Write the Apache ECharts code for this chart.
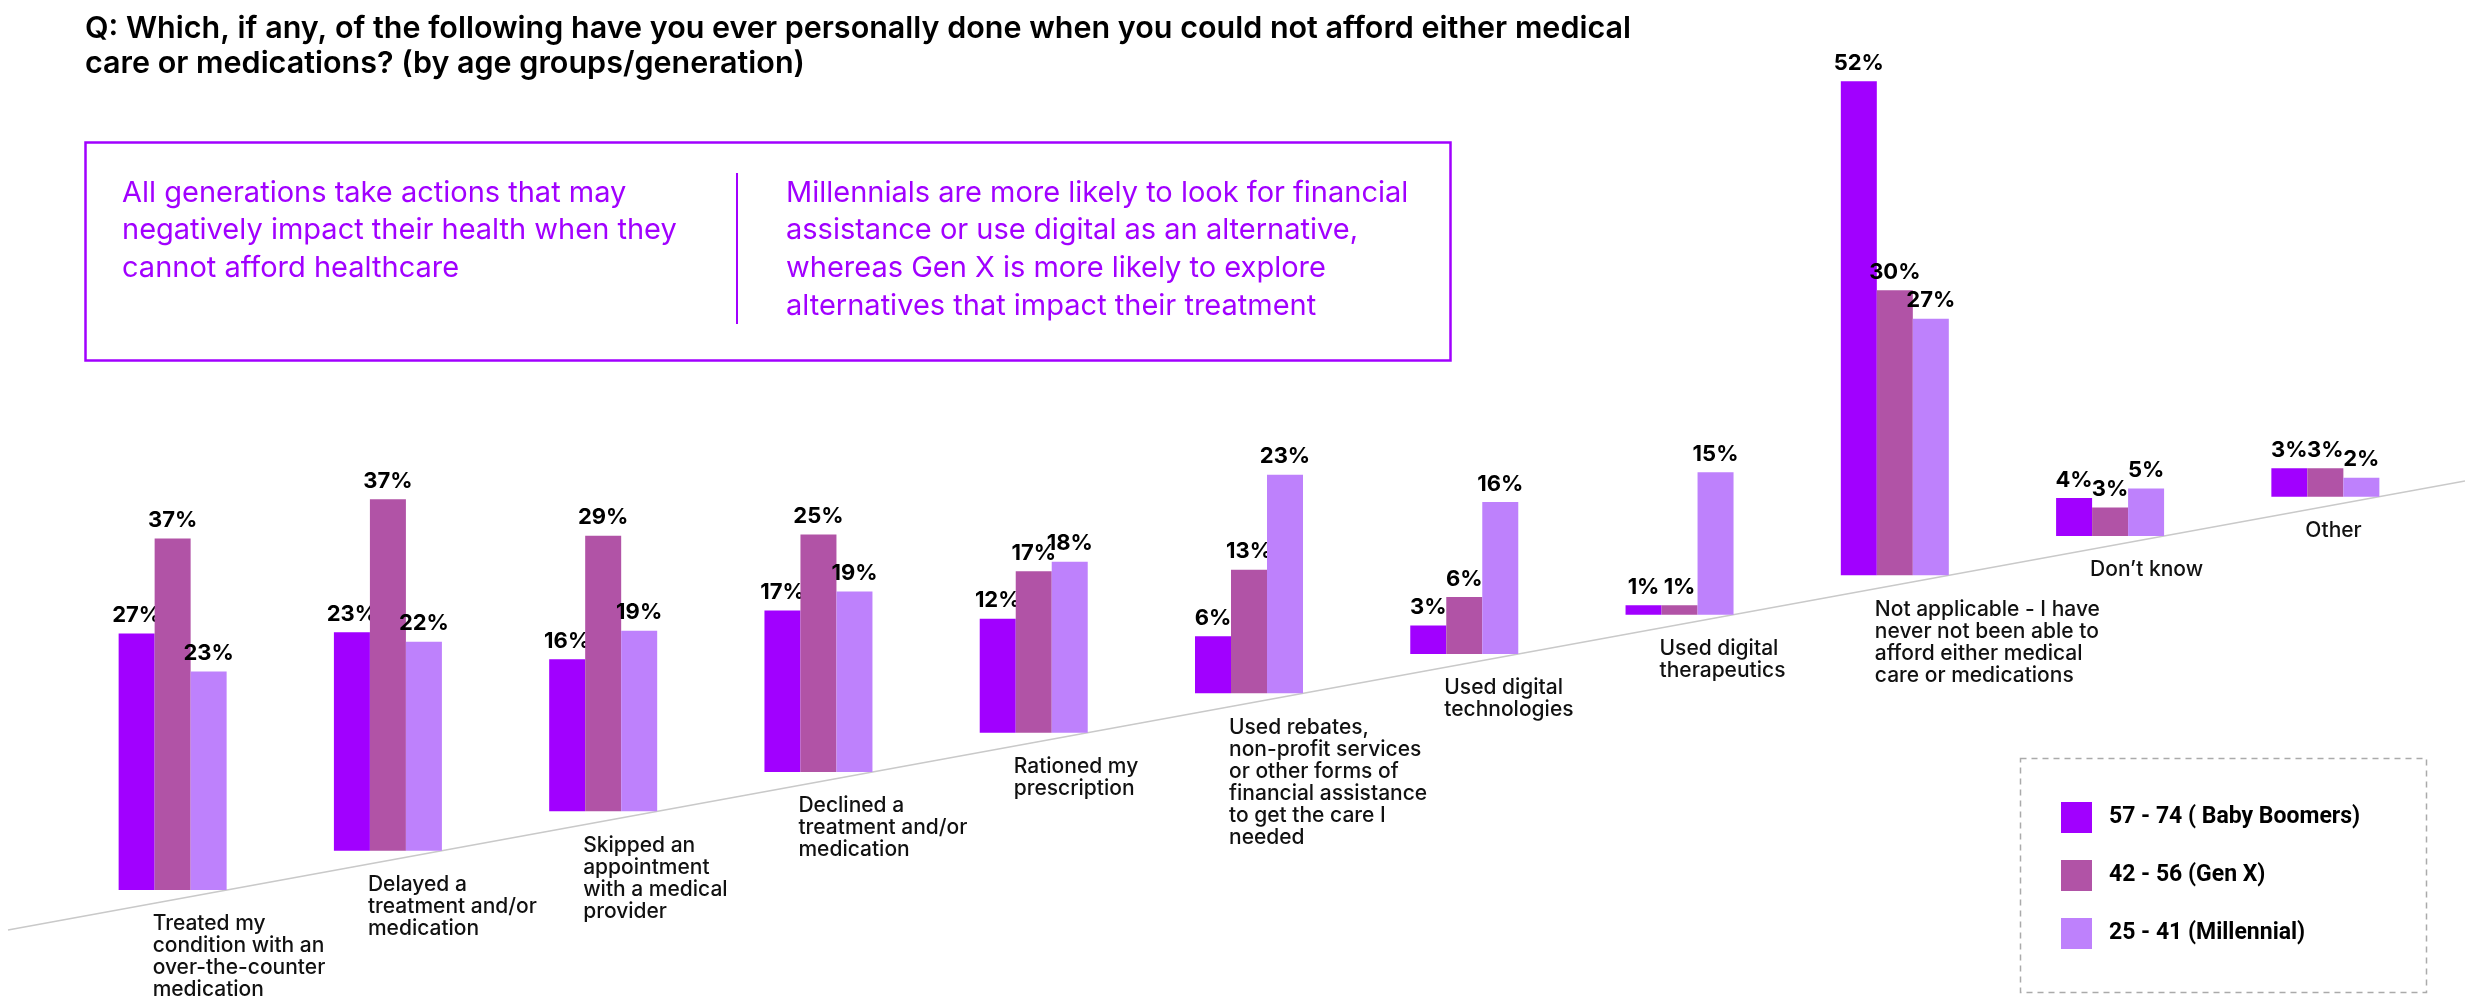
<!DOCTYPE html>
<html>
<head>
<meta charset="utf-8">
<script src="https://cdn.jsdelivr.net/npm/echarts@6/dist/echarts.min.js"></script>
<style>
  html, body { margin: 0; padding: 0; background: #fff; }
  #chart { width: 2465px; height: 1004px; }
</style>
</head>
<body>
<div id="chart"></div>
<script>
// Survey answers, one group of three bars per answer
const categories = [
  'Treated my\ncondition with an\nover-the-counter\nmedication',
  'Delayed a\ntreatment and/or\nmedication',
  'Skipped an\nappointment\nwith a medical\nprovider',
  'Declined a\ntreatment and/or\nmedication',
  'Rationed my\nprescription',
  'Used rebates,\nnon-profit services\nor other forms of\nfinancial assistance\nto get the care I\nneeded',
  'Used digital\ntechnologies',
  'Used digital\ntherapeutics',
  'Not applicable - I have\nnever not been able to\nafford either medical\ncare or medications',
  'Don’t know',
  'Other'
];
const seriesNames = ['57 - 74 ( Baby Boomers)', '42 - 56 (Gen X)', '25 - 41 (Millennial)'];
const boomers    = [27, 23, 16, 17, 12, 6, 3, 1, 52, 4, 3];
const genX       = [37, 37, 29, 25, 17, 13, 6, 1, 30, 3, 3];
const millennial = [23, 22, 19, 19, 18, 23, 16, 15, 27, 5, 2];
const seriesValues = [boomers, genX, millennial];
const colors = ['#A100FF', '#B153A6', '#BE81FC'];

const titleText = 'Q: Which, if any, of the following have you ever personally done when you could not afford either medical\ncare or medications? (by age groups/generation)';
const noteLeft = 'All generations take actions that may\nnegatively impact their health when they\ncannot afford healthcare';
const noteRight = 'Millennials are more likely to look for financial\nassistance or use digital as an alternative,\nwhereas Gen X is more likely to explore\nalternatives that impact their treatment';

// Layout of the rising baseline the bar groups stand on
const BAR_W = 36;
const BASE = { x0: 8, y0: 930, x1: 2465, y1: 481 };
function baseY(x) {
  return BASE.y0 + (BASE.y1 - BASE.y0) * (x - BASE.x0) / (BASE.x1 - BASE.x0);
}
function groupLeft(api, i) {
  return api.coord([i, 0])[0] - 1.5 * BAR_W;
}

function barRenderer(k) {
  return function (params, api) {
    const i = api.value(0);
    const v = api.value(1);
    const left = groupLeft(api, i);
    const y0 = baseY(left + 3 * BAR_W);
    const h = api.size([0, v])[1];
    const x = left + k * BAR_W;
    return {
      type: 'group',
      children: [
        { type: 'rect', shape: { x: x, y: y0 - h, width: BAR_W, height: h },
          style: { fill: api.visual('color') } },
        { type: 'text', style: {
            text: v + '%', x: x + BAR_W / 2, y: y0 - h - 7,
            align: 'center', verticalAlign: 'bottom',
            fontFamily: 'Inter', fontWeight: 700, fontSize: 22, fill: '#000'
        } }
      ]
    };
  };
}

const barSeries = seriesValues.map(function (vals, k) {
  return {
    type: 'custom',
    name: seriesNames[k],
    color: colors[k],
    itemStyle: { color: colors[k] },
    renderItem: barRenderer(k),
    encode: { x: 0, y: 1 },
    data: vals.map(function (v, i) { return [i, v]; }),
    z: 3
  };
});

// Answer texts hang just under the baseline, below each group
const labelSeries = {
  type: 'custom',
  name: 'labels',
  silent: true,
  renderItem: function (params, api) {
    const i = api.value(0);
    const left = groupLeft(api, i);
    const y0 = baseY(left + 3 * BAR_W);
    return {
      type: 'text',
      style: {
        text: categories[i], x: left + 34, y: y0 + 23,
        align: 'left', verticalAlign: 'top',
        fontFamily: 'Inter', fontWeight: 500, fontSize: 21, lineHeight: 22, fill: '#111'
      }
    };
  },
  data: categories.map(function (c, i) { return [i, 0]; }),
  z: 2
};

const baselineSeries = {
  type: 'custom',
  name: 'baseline',
  silent: true,
  renderItem: function () {
    return {
      type: 'line',
      shape: { x1: BASE.x0, y1: BASE.y0, x2: BASE.x1, y2: BASE.y1 },
      style: { stroke: '#c9c9c9', lineWidth: 1.5 }
    };
  },
  data: [[0, 0]],
  z: 1
};

const chart = echarts.init(document.getElementById('chart'), null, { renderer: 'canvas' });
chart.setOption({
  animation: false,
  backgroundColor: '#fff',
  title: {
    text: titleText,
    left: 80, top: 6,
    textStyle: { fontFamily: 'Inter', fontWeight: 600, fontSize: 30.5, lineHeight: 35, color: '#000' }
  },
  grid: { left: 65, right: 32, top: 30, height: 950 },
  xAxis: { type: 'category', data: categories, show: false, boundaryGap: true },
  yAxis: { type: 'value', min: 0, max: 100, show: false },
  legend: {
    data: seriesNames,
    orient: 'vertical',
    left: 2056, top: 797,
    itemWidth: 31, itemHeight: 31, itemGap: 27,
    icon: 'rect',
    selectedMode: false,
    textStyle: { fontFamily: 'Roboto', fontWeight: 700, fontSize: 23, color: '#000', padding: [0, 0, 0, 12] }
  },
  graphic: [
    { type: 'rect', left: 83, top: 140,
      shape: { width: 1365, height: 218 },
      style: { fill: 'none', stroke: '#A100FF', lineWidth: 2.5 } },
    { type: 'line', shape: { x1: 737, y1: 173, x2: 737, y2: 324 },
      style: { stroke: '#A100FF', lineWidth: 2 } },
    { type: 'text', left: 122, top: 174,
      style: { text: noteLeft, fontFamily: 'Inter', fontWeight: 400, fontSize: 29, lineHeight: 37.7, fill: '#A100FF' } },
    { type: 'text', left: 786, top: 174,
      style: { text: noteRight, fontFamily: 'Inter', fontWeight: 400, fontSize: 29, lineHeight: 37.7, fill: '#A100FF' } },
    { type: 'rect', left: 2018, top: 756,
      shape: { width: 406, height: 234 },
      style: { fill: 'none', stroke: '#aaaaaa', lineWidth: 1.5, lineDash: [6, 5] } }
  ],
  series: [baselineSeries, labelSeries].concat(barSeries)
});
</script>
</body>
</html>
